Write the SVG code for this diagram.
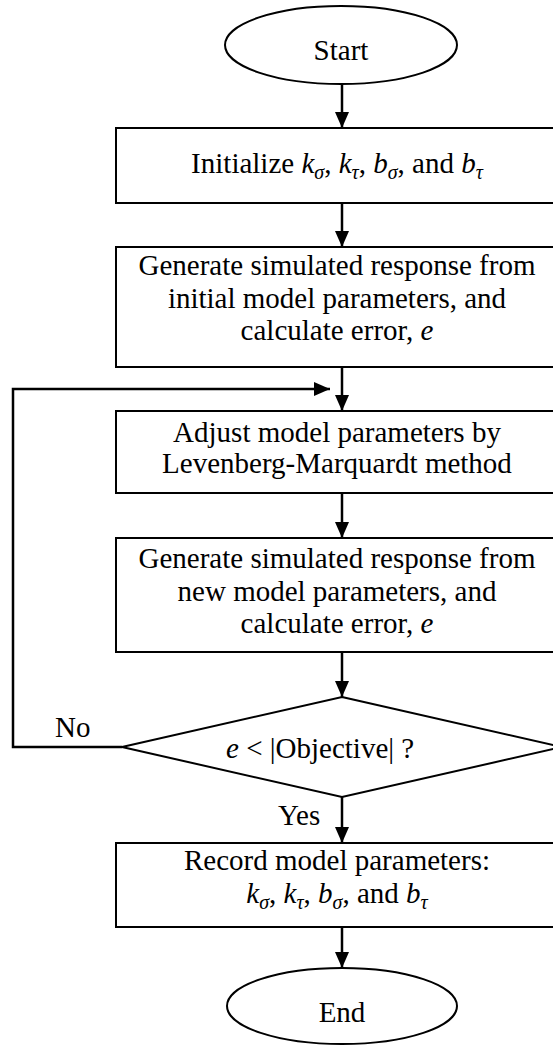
<svg xmlns="http://www.w3.org/2000/svg" width="553" height="1047" viewBox="0 0 553 1047">
<defs>
<style>
.shape{fill:#fff;stroke:#000;stroke-width:2}
.t{font-family:"Liberation Serif","Times New Roman",serif;font-size:29px;fill:#000}
.c{text-anchor:middle}
.i{font-style:italic}
.s{font-size:20px;font-style:italic}
.ln{fill:none;stroke:#000;stroke-width:2.5}
</style>
<marker id="ah" viewBox="0 0 16 14" refX="16" refY="7" markerWidth="16" markerHeight="14" markerUnits="userSpaceOnUse" orient="auto">
<path d="M0,0 L16,7 L0,14 Z" fill="#000"/>
</marker>
</defs>
<rect width="553" height="1047" fill="#fff"/>
<g id="connectors">
<line class="ln" x1="342" y1="84" x2="342" y2="128" marker-end="url(#ah)"/>
<line class="ln" x1="342" y1="203" x2="342" y2="247" marker-end="url(#ah)"/>
<line class="ln" x1="342" y1="367" x2="342" y2="411" marker-end="url(#ah)"/>
<line class="ln" x1="342" y1="493" x2="342" y2="538" marker-end="url(#ah)"/>
<line class="ln" x1="342" y1="652" x2="342" y2="697" marker-end="url(#ah)"/>
<line class="ln" x1="342" y1="797" x2="342" y2="843" marker-end="url(#ah)"/>
<line class="ln" x1="342" y1="927" x2="342" y2="968" marker-end="url(#ah)"/>
<polyline class="ln" points="122,747 13,747 13,389 330,389" marker-end="url(#ah)"/>
<text class="t" x="55" y="737">No</text>
<text class="t" x="278" y="825">Yes</text>
</g>
<g id="start">
<ellipse class="shape" cx="341" cy="45" rx="116" ry="39"/>
<text class="t c" x="341" y="60">Start</text>
</g>
<g id="init">
<rect class="shape" x="116" y="128" width="445" height="75"/>
<text class="t c" x="337" y="173">Initialize <tspan class="i">k</tspan><tspan class="s" dy="6">σ</tspan><tspan dy="-6">, </tspan><tspan class="i">k</tspan><tspan class="s" dy="6">τ</tspan><tspan dy="-6">, </tspan><tspan class="i">b</tspan><tspan class="s" dy="6">σ</tspan><tspan dy="-6">, and </tspan><tspan class="i">b</tspan><tspan class="s" dy="6">τ</tspan></text>
</g>
<g id="gen1">
<rect class="shape" x="116" y="247" width="445" height="120"/>
<text class="t c" x="337" y="275">Generate simulated response from</text>
<text class="t c" x="337" y="308">initial model parameters, and</text>
<text class="t c" x="337" y="340">calculate error, <tspan class="i">e</tspan></text>
</g>
<g id="adjust">
<rect class="shape" x="116" y="411" width="445" height="82"/>
<text class="t c" x="337" y="442">Adjust model parameters by</text>
<text class="t c" x="337" y="473">Levenberg-Marquardt method</text>
</g>
<g id="gen2">
<rect class="shape" x="116" y="538" width="445" height="114"/>
<text class="t c" x="337" y="568">Generate simulated response from</text>
<text class="t c" x="337" y="601">new model parameters, and</text>
<text class="t c" x="337" y="633">calculate error, <tspan class="i">e</tspan></text>
</g>
<g id="decision">
<polygon class="shape" points="342,697 562,747 342,797 122,747"/>
<text class="t" x="226" y="758"><tspan class="i">e</tspan> &lt; |Objective| ?</text>
</g>
<g id="record">
<rect class="shape" x="116" y="843" width="445" height="84"/>
<text class="t c" x="337" y="870">Record model parameters:</text>
<text class="t c" x="337" y="903"><tspan class="i">k</tspan><tspan class="s" dy="6">σ</tspan><tspan dy="-6">, </tspan><tspan class="i">k</tspan><tspan class="s" dy="6">τ</tspan><tspan dy="-6">, </tspan><tspan class="i">b</tspan><tspan class="s" dy="6">σ</tspan><tspan dy="-6">, and </tspan><tspan class="i">b</tspan><tspan class="s" dy="6">τ</tspan></text>
</g>
<g id="end">
<ellipse class="shape" cx="342" cy="1006" rx="115" ry="38"/>
<text class="t c" x="342" y="1022">End</text>
</g>
</svg>
